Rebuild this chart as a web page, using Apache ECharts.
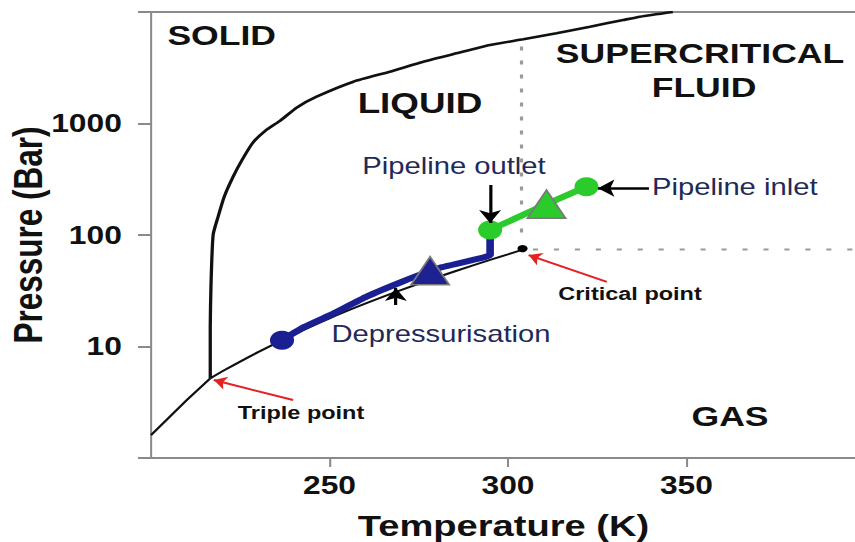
<!DOCTYPE html>
<html><head><meta charset="utf-8">
<script src="https://cdn.jsdelivr.net/npm/echarts@6/dist/echarts.min.js"></script>
<style>
html,body{margin:0;padding:0;background:#fff;overflow:hidden;width:855px;height:542px}
#chart{width:674px;height:542px;transform:scaleX(1.27);transform-origin:0 0}
</style>
</head><body><div id="chart"></div>
<script>
// ---- data (Temperature K, Pressure bar) ----
const xTickLabels = ['250', '300', '350'];
const yTickLabels = ['10', '100', '1000'];
const sublimationCurve = [[200, 1.6], [205, 2.3], [210, 3.3], [216.6, 5.18]];
const meltingCurve = [[216.6, 5.18], [216.6, 15], [216.8, 35], [217.4, 100], [218.8, 146], [220.5, 220], [223, 333], [225.5, 470], [228.5, 670], [232, 860], [236, 1050], [241, 1400], [246.4, 1740], [256.7, 2371], [266.9, 2916], [276.3, 3583], [285.6, 4264], [295, 5058], [304.3, 5690], [313.6, 6440], [323, 7380], [332.3, 8480], [337, 9080], [346.2, 10000]];
const vapourCurve = [[216.6, 5.18], [220, 6.0], [230, 8.9], [240, 12.8], [250, 17.9], [260, 24.2], [270, 32.0], [280, 41.6], [290, 53.2], [300, 67.1], [304.1, 74]];
const criticalPoint = [[304.1, 75.5]];
const criticalTempLine = [[303.8, 4900], [303.8, 95]];
const criticalPressLine = [[307, 74], [397.5, 74]];
const depressurisationPath = [[295, 111], [295, 66], [290, 59.5], [280, 50], [270, 37.7], [260.4, 28], [250, 19], [243, 15], [236.7, 11.4]];
const pipelinePath = [[295, 111], [310.8, 189], [322, 271]];
const depressurisationEnd = [[236.7, 11.4]];
const pipelineEnds = [[295, 111], [322, 271]];
const depressurisationDirection = [[278.2, 47.8]];
const pipelineDirection = [[310.8, 189]];
const blackArrows = [
  [[295, 281], [295, 128]],
  [[339.5, 263], [325.2, 263]],
  [[268.6, 23.6], [268.6, 33.5]]
];
const redArrows = [
  [[239.8, 3.31], [217.6, 5.0]],
  [[327.7, 38], [305.8, 66]]
];

const S = 1.27; // horizontal stretch of the reference
const L = v => v / S;
const FONT = '"Liberation Sans", Arial, sans-serif';
const AXIS_GREY = '#8a8a8a';

const chart = echarts.init(document.getElementById('chart'), null, { renderer: 'svg' });

function txt(text, sx, sy, size, weight, color, align) {
  return {
    type: 'text', x: L(sx), y: sy, z: 100,
    style: { text: text, fontSize: size, fontWeight: weight, fontFamily: FONT, fill: color, align: align || 'center', verticalAlign: 'middle' }
  };
}

const option = {
  animation: false,
  backgroundColor: '#fff',
  grid: { left: 118.9, right: 0, top: 12, bottom: 84, containLabel: false, outerBoundsMode: 'none' },
  xAxis: [{
    type: 'value', min: 200, max: 397.5, interval: 50,
    name: 'Temperature (K)', nameLocation: 'middle', nameGap: 52, nameMoveOverlap: false,
    nameTextStyle: { fontSize: 30, fontWeight: 'bold', fontFamily: FONT, color: '#111' },
    axisLine: { show: true, lineStyle: { color: AXIS_GREY, width: 2 } },
    axisTick: { show: true, length: 9, lineStyle: { color: AXIS_GREY, width: 1.6 } },
    axisLabel: {
      margin: 15, fontSize: 25, fontWeight: 'bold', fontFamily: FONT, color: '#111',
      showMinLabel: false, showMaxLabel: false,
      formatter: v => xTickLabels.includes(String(v)) ? String(v) : ''
    },
    splitLine: { show: false }
  }, {
    type: 'value', min: 200, max: 397.5, position: 'top',
    axisLine: { show: true, onZero: false, lineStyle: { color: AXIS_GREY, width: 2 } },
    axisTick: { show: false }, axisLabel: { show: false }, splitLine: { show: false }
  }],
  yAxis: {
    type: 'log', logBase: 10, min: 1, max: 10000,
    name: 'Pressure (Bar)', nameLocation: 'middle', nameGap: 81, nameRotate: 90, nameMoveOverlap: false,
    nameTextStyle: { fontSize: 31.5, fontWeight: 'bold', fontFamily: FONT, color: '#111' },
    axisLine: { show: true, lineStyle: { color: AXIS_GREY, width: 1.6 } },
    axisTick: { show: true, length: 10.2, lineStyle: { color: AXIS_GREY, width: 2 } },
    axisLabel: {
      margin: 23, fontSize: 25, fontWeight: 'bold', fontFamily: FONT, color: '#111',
      formatter: v => yTickLabels.includes(String(Math.round(v))) ? String(Math.round(v)) : ''
    },
    splitLine: { show: false }, minorTick: { show: false }
  },
  series: [
    { type: 'line', data: sublimationCurve, showSymbol: false, lineStyle: { color: '#111', width: 2 }, z: 2 },
    { type: 'line', data: meltingCurve, showSymbol: false, smooth: 0.2, lineStyle: { color: '#111', width: 2.6 }, z: 2 },
    { type: 'line', data: vapourCurve, showSymbol: false, smooth: 0.2, lineStyle: { color: '#111', width: 2 }, z: 2 },
    { type: 'line', data: criticalTempLine, showSymbol: false, lineStyle: { color: '#9a9a9a', width: 2.5, type: [4, 10] }, z: 1 },
    { type: 'line', data: criticalPressLine, showSymbol: false, lineStyle: { color: '#9a9a9a', width: 2, type: [4, 12.5] }, z: 1 },
    { type: 'scatter', data: criticalPoint, symbol: 'circle', symbolSize: [8, 7], itemStyle: { color: '#000', opacity: 1 }, z: 3 },
    { type: 'line', data: depressurisationPath, showSymbol: false, smooth: 0.1, lineStyle: { color: '#1a1f92', width: 6 }, z: 4 },
    { type: 'line', data: pipelinePath, showSymbol: false, lineStyle: { color: '#2ccb2c', width: 6 }, z: 4 },
    { type: 'scatter', data: depressurisationEnd, symbol: 'circle', symbolSize: 19, itemStyle: { color: '#1a1f92', opacity: 1 }, z: 5 },
    { type: 'scatter', data: pipelineEnds, symbol: 'circle', symbolSize: 19, itemStyle: { color: '#2ccb2c', opacity: 1 }, z: 5 },
    { type: 'scatter', data: depressurisationDirection, symbol: 'triangle', symbolSize: [30, 28],
      itemStyle: { color: '#1d2290', borderColor: '#7a7a7a', borderWidth: 1.5, opacity: 1 }, z: 6 },
    { type: 'scatter', data: pipelineDirection, symbol: 'triangle', symbolSize: [30, 28],
      itemStyle: { color: '#2ccb2c', borderColor: '#7a7a7a', borderWidth: 1.5, opacity: 1 }, z: 6 },
    { type: 'lines', coordinateSystem: 'cartesian2d', data: blackArrows.map(c => ({ coords: c })),
      symbol: ['none', 'arrow'], symbolSize: 13, lineStyle: { color: '#000', width: 2.5, opacity: 1 }, z: 10 },
    { type: 'lines', coordinateSystem: 'cartesian2d', data: redArrows.map(c => ({ coords: c })),
      symbol: ['none', 'arrow'], symbolSize: 10, lineStyle: { color: '#e42222', width: 2, opacity: 1 }, z: 10 }
  ],
  graphic: [
    txt('SOLID', 221.7, 35, 28, 'bold', '#111'),
    txt('LIQUID', 420, 103, 29, 'bold', '#111'),
    txt('SUPERCRITICAL', 700, 53, 28, 'bold', '#111'),
    txt('FLUID', 704, 87.5, 28, 'bold', '#111'),
    txt('GAS', 730, 416, 28, 'bold', '#111'),
    txt('Pipeline outlet', 454, 166.5, 23, 'normal', '#1e2a58'),
    txt('Pipeline inlet', 652, 187, 23, 'normal', '#1e2a58', 'left'),
    txt('Depressurisation', 441, 334, 23, 'normal', '#1e2a58'),
    txt('Triple point', 301, 412, 18.5, 'bold', '#111'),
    txt('Critical point', 630, 293, 18.5, 'bold', '#111')
  ]
};
chart.setOption(option);
</script>
</body></html>
